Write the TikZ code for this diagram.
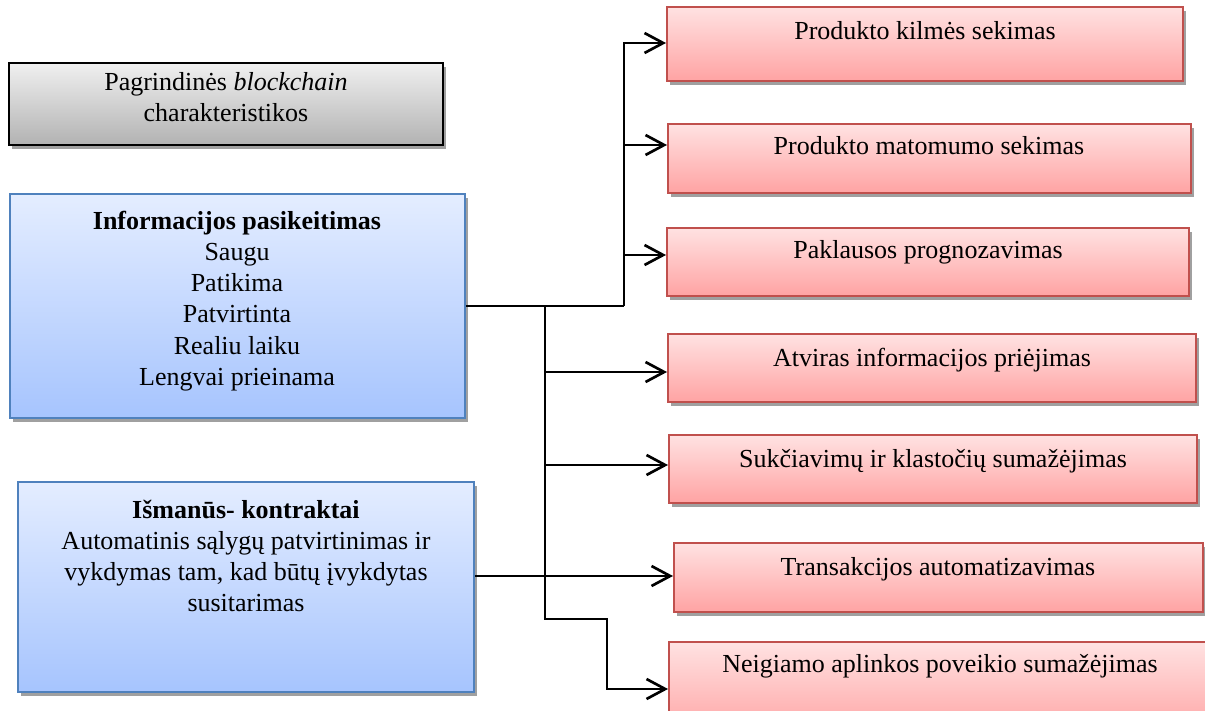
\documentclass[tikz,border=0pt]{standalone}
\usepackage{fontspec}
\setmainfont{Liberation Serif}
\usetikzlibrary{arrows.meta,fit,shadows}
\definecolor{redtop}{HTML}{FFE2E2}
\definecolor{redbot}{HTML}{FFA3A3}
\definecolor{redborder}{HTML}{C0504D}
\definecolor{bluetop}{HTML}{E4EDFF}
\definecolor{bluebot}{HTML}{A6C4FE}
\definecolor{blueborder}{HTML}{4F81BD}
\definecolor{graytop}{HTML}{F0F0F0}
\definecolor{graybot}{HTML}{B2B2B2}
\definecolor{shadowgray}{HTML}{A0A0A0}
\begin{document}
\begin{tikzpicture}[x=0.75pt,y=-0.75pt,
  shad/.style={drop shadow={shadow xshift=2.25pt,shadow yshift=-3pt,fill=shadowgray,opacity=1}},
  redbox/.style={draw=redborder,line width=1.5pt,top color=redtop,bottom color=redbot,inner sep=0pt,shad},
  bluebox/.style={draw=blueborder,line width=1.5pt,top color=bluetop,bottom color=bluebot,inner sep=0pt,shad},
  graybox/.style={draw=black,line width=1.5pt,top color=graytop,bottom color=graybot,inner sep=0pt,shad},
  txt/.style={font=\fontsize{19.5}{23.4}\selectfont,align=center,inner sep=0pt,text height=0.7em,text depth=0.25em},
  mtxt/.style={font=\fontsize{19.5}{23.4}\selectfont,align=center,inner sep=0pt},
  conn/.style={line width=2pt},
  thinconn/.style={line width=1pt},
  arr/.style={conn,-{Straight Barb[length=14pt,width=15pt]}},
]
\useasboundingbox (0,0) rectangle (1205,710);
\clip (0,0) rectangle (1205,710);

% left boxes
\node[graybox,fit={(9,63) (443,145)}] (g) {};
\node[mtxt] (gt) at (226,97) {Pagrindinės \textit{blockchain}\\charakteristikos};

\node[bluebox,fit={(10,194) (465,418)}] (b1) {};
\node[mtxt] (b1t) at (237,301) {\textbf{Informacijos pasikeitimas}\\Saugu\\Patikima\\Patvirtinta\\Realiu laiku\\Lengvai prieinama};

\node[bluebox,fit={(18,482) (474,692)}] (b2) {};
\node[mtxt] (b2t) at (246,556) {\textbf{Išmanūs- kontraktai}\\Automatinis sąlygų patvirtinimas ir\\vykdymas tam, kad būtų įvykdytas\\susitarimas};

% right boxes
\node[redbox,fit={(667,7) (1183,81)}] (r1) {};
\node[txt] (r1t) at (925,37) {Produkto kilmės sekimas};
\node[redbox,fit={(668,124) (1191,193)}] (r2) {};
\node[txt] (r2t) at (929,151) {Produkto matomumo sekimas};
\node[redbox,fit={(667,228) (1189,296)}] (r3) {};
\node[txt] (r3t) at (928,255) {Paklausos prognozavimas};
\node[redbox,fit={(668,334) (1196,402)}] (r4) {};
\node[txt] (r4t) at (932,363) {Atviras informacijos priėjimas};
\node[redbox,fit={(669,435) (1197,503)}] (r5) {};
\node[txt] (r5t) at (933,464) {Sukčiavimų ir klastočių sumažėjimas};
\node[redbox,fit={(674,543) (1203,612)}] (r6) {};
\node[txt] (r6t) at (938,572) {Transakcijos automatizavimas};
\node[redbox,fit={(669,642) (1214,736)}] (r7) {};
\node[txt] (r7t) at (940,669) {Neigiamo aplinkos poveikio sumažėjimas};

% connector rows
\coordinate (y1) at (0,43);
\coordinate (y2) at (0,145);
\coordinate (y3) at (0,255);
\coordinate (y4) at (0,372);
\coordinate (y5) at (0,465);
\coordinate (y6) at (0,576);
\coordinate (y7) at (0,689);
\coordinate (tA) at (624,306);
\coordinate (jA) at (545,306);
\coordinate (jB) at (545,619);
\coordinate (jC) at (607,619);

\draw[conn] (b1.east) -- (tA);
\draw[arr] (tA) |- (r1.west |- y1);
\draw[arr] (tA |- y2) -- (r2.west |- y2);
\draw[arr] (tA |- y3) -- (r3.west |- y3);
\draw[arr] (jA) -- (jB) -- (jC) |- (r7.west |- y7);
\draw[arr] (jA |- y4) -- (r4.west |- y4);
\draw[arr] (jA |- y5) -- (r5.west |- y5);
\draw[thinconn] (b2.east |- y6) -- (jA |- y6);
\draw[arr] (jA |- y6) -- (r6.west |- y6);
\end{tikzpicture}
\end{document}
